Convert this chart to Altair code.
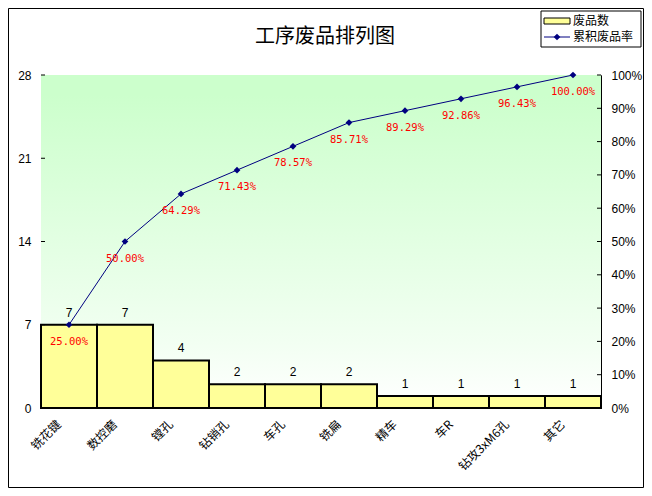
import altair as alt
import pandas as pd

categories = ["铣花键", "数控磨", "镗孔", "钻销孔", "车孔", "铣扁", "精车", "车R", "钻攻3xM6孔", "其它"]
counts = [7, 7, 4, 2, 2, 2, 1, 1, 1, 1]
cum_pct = [0.25, 0.50, 0.6429, 0.7143, 0.7857, 0.8571, 0.8929, 0.9286, 0.9643, 1.00]
cum_labels = ["25.00%", "50.00%", "64.29%", "71.43%", "78.57%", "85.71%", "89.29%", "92.86%", "96.43%", "100.00%"]
left_ticks = [0, 7, 14, 21, 28]
right_ticks = [0, 0.1, 0.2, 0.3, 0.4, 0.5, 0.6, 0.7, 0.8, 0.9, 1.0]
title_text = "工序废品排列图"
legend_bar = "废品数"
legend_line = "累积废品率"

W, H = 560, 333
PL, PT, PR, PB = 33, 67, 43, 80
FONT = "Liberation Sans"
CJK = "Noto Sans CJK SC"

df = pd.DataFrame({"cat": categories, "count": counts, "cum": cum_pct, "lab": cum_labels})
lt = pd.DataFrame({"v": left_ticks})
rt = pd.DataFrame({"v": right_ticks})

xenc = alt.X("cat:N", sort=categories, title=None,
             scale=alt.Scale(paddingInner=0, paddingOuter=0),
             axis=alt.Axis(labelAngle=-45, labelAlign="right", labelBaseline="middle",
                           labelFont=CJK, labelFontSize=12, labelColor="#000000",
                           ticks=False, domain=False, labelPadding=14, labelOffset=-10))

yleft_scale = alt.Scale(domain=[0, 28], nice=False)
yleft_axis = alt.Axis(orient="left", values=left_ticks, ticks=False, grid=False,
                      domainColor="#000000", labelFont=FONT, labelFontSize=12,
                      labelColor="#000000", labelPadding=10, title=None)
yright_scale = alt.Scale(domain=[0, 1], nice=False)
yright_axis = alt.Axis(orient="right", values=right_ticks, format=".0%", ticks=False,
                       grid=False, domainColor="#000000", labelFont=FONT, labelFontSize=12,
                       labelColor="#000000", labelPadding=10, title=None)

bg = alt.Chart(df).mark_rect(
    fill=alt.Gradient(gradient="linear", x1=0, x2=0, y1=0, y2=1,
                      stops=[alt.GradientStop(color="#ccffcc", offset=0),
                             alt.GradientStop(color="#ccffcc", offset=0.06),
                             alt.GradientStop(color="#f2fff2", offset=0.8),
                             alt.GradientStop(color="#ffffff", offset=1)])
).encode(x=alt.value(0), x2=alt.value(W), y=alt.value(0), y2=alt.value(H))

bars = alt.Chart(df).mark_bar(fill="#ffff99", stroke="#000000", strokeWidth=2).encode(
    x=xenc, y=alt.Y("count:Q", scale=yleft_scale, axis=yleft_axis))
bar_text = alt.Chart(df).mark_text(dy=-12, font=FONT, fontSize=12, color="#000000").encode(
    x=xenc, y=alt.Y("count:Q", scale=yleft_scale, axis=yleft_axis), text="count:Q")
lticks = alt.Chart(lt).mark_rule(color="#000000").encode(
    x=alt.value(0), x2=alt.value(4), y=alt.Y("v:Q", scale=yleft_scale, axis=yleft_axis))
left_layer = alt.layer(bars, bar_text, lticks)

line = alt.Chart(df).mark_line(color="#000080", strokeWidth=1).encode(
    x=xenc, y=alt.Y("cum:Q", scale=yright_scale, axis=yright_axis))
pts = alt.Chart(df).mark_point(shape="diamond", filled=True, size=45, color="#000080", opacity=1).encode(
    x=xenc, y=alt.Y("cum:Q", scale=yright_scale, axis=yright_axis))
ptxt = alt.Chart(df).mark_text(dy=17, font="DejaVu Sans Mono", fontSize=10.5, color="#ff0000").encode(
    x=xenc, y=alt.Y("cum:Q", scale=yright_scale, axis=yright_axis), text="lab:N")
rticks = alt.Chart(rt).mark_rule(color="#000000").encode(
    x=alt.value(W - 4), x2=alt.value(W), y=alt.Y("v:Q", scale=yright_scale, axis=yright_axis))
right_layer = alt.layer(line, pts, ptxt, rticks)

one = pd.DataFrame({"a": [0]})
frame = alt.Chart(one).mark_rect(fill=None, stroke="#000000", strokeWidth=1).encode(
    x=alt.value(-PL + 0.5), x2=alt.value(W + PR - 0.5), y=alt.value(-PT + 0.5), y2=alt.value(H + PB - 0.5))
title = alt.Chart(pd.DataFrame({"t": [title_text]})).mark_text(
    font=CJK, fontSize=20, color="#000000", baseline="middle", align="center").encode(
    x=alt.value(284), y=alt.value(-38), text="t:N")
leg_box = alt.Chart(one).mark_rect(fill="#ffffff", stroke="#000000", strokeWidth=1).encode(
    x=alt.value(500), x2=alt.value(W + PR - 3), y=alt.value(-64), y2=alt.value(-28))
leg_sw = alt.Chart(one).mark_rect(fill="#ffff99", stroke="#000000", strokeWidth=1).encode(
    x=alt.value(503), x2=alt.value(529), y=alt.value(-57), y2=alt.value(-51))
leg_t1 = alt.Chart(pd.DataFrame({"t": [legend_bar]})).mark_text(
    font=CJK, fontSize=12, align="left", baseline="middle", color="#000000").encode(
    x=alt.value(532), y=alt.value(-54), text="t:N")
leg_ln = alt.Chart(one).mark_rule(color="#000080", strokeWidth=1).encode(
    x=alt.value(503), x2=alt.value(529), y=alt.value(-38))
leg_pt = alt.Chart(one).mark_point(shape="diamond", filled=True, size=45, color="#000080", opacity=1).encode(
    x=alt.value(516), y=alt.value(-38))
leg_t2 = alt.Chart(pd.DataFrame({"t": [legend_line]})).mark_text(
    font=CJK, fontSize=12, align="left", baseline="middle", color="#000000").encode(
    x=alt.value(532), y=alt.value(-38), text="t:N")

chart = alt.layer(
    bg, left_layer, right_layer, frame, title, leg_box, leg_sw, leg_t1, leg_ln, leg_pt, leg_t2
).resolve_scale(y="independent").properties(
    width=W, height=H,
    autosize=alt.AutoSizeParams(type="none"),
    padding={"left": PL, "top": PT, "right": PR, "bottom": PB},
    background="#ffffff",
).configure_view(stroke="#808080", strokeWidth=1)

chart.save("out.html", embed_options={"renderer": "svg", "actions": False})
